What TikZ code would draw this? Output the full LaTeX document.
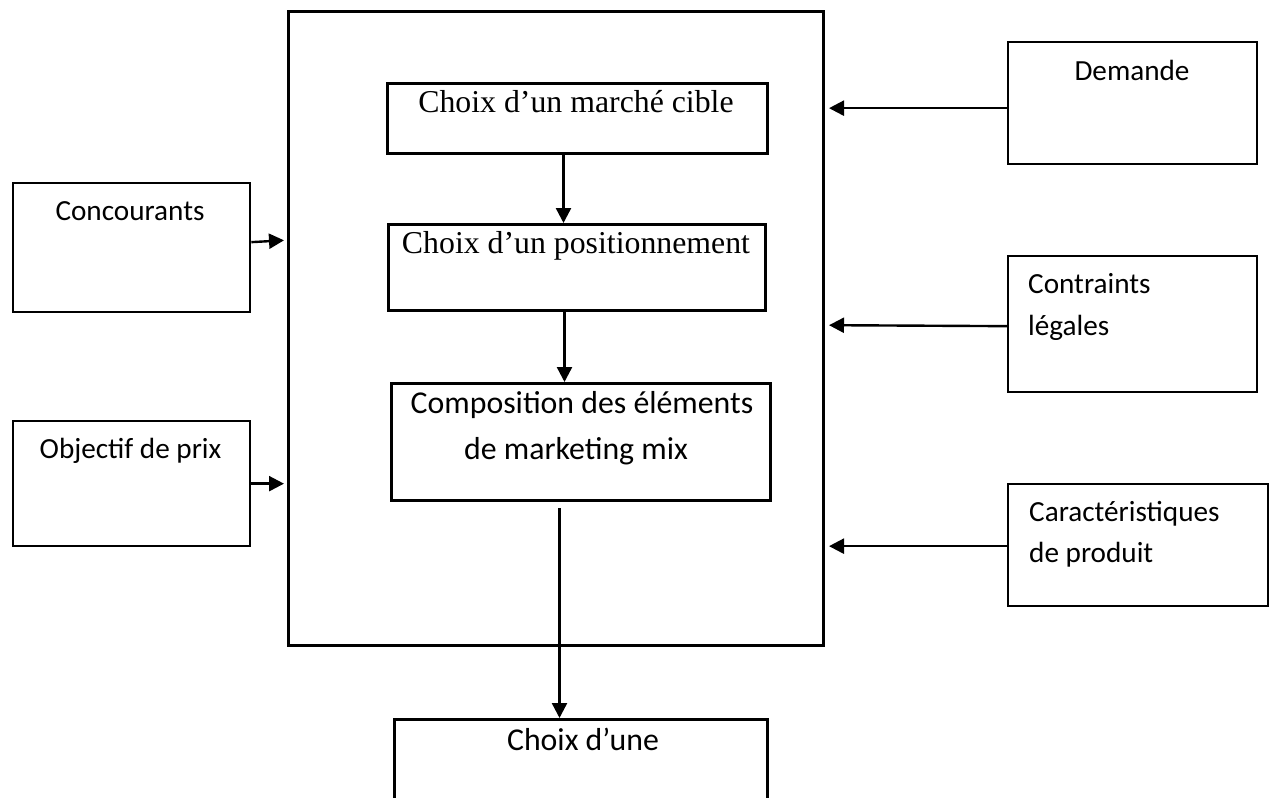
\documentclass[tikz,border=0pt]{standalone}
\usepackage{fontspec}
\setmainfont{Carlito}
\newfontfamily\tnr{Liberation Serif}
\usetikzlibrary{arrows.meta,calc}
\begin{document}
\begin{tikzpicture}[x=1pt,y=-1pt,
  box/.style={draw=black, line width=3pt, inner sep=0pt, anchor=north west},
  sidebox/.style={box, line width=2.3pt},
  sidetxt/.style={font=\fontsize{29.2}{42}\selectfont, inner sep=0pt, anchor=base},
  midtxt/.style={font=\fontsize{31.8}{43}\selectfont, inner sep=0pt, anchor=base},
  sertxt/.style={font=\tnr\fontsize{31.8}{40}\selectfont, inner sep=0pt, anchor=base},
  arr/.style={line width=2.4pt, -{Triangle[length=15pt,width=15pt]}}]
\useasboundingbox (0,0) rectangle (1272,798);
\clip (0,0) rectangle (1272,798);
\fill[white] (0,0) rectangle (1272,798);

% boxes
\node[box, minimum width=535pt, minimum height=634pt] (big) at (287,10) {};
\node[box, minimum width=380pt, minimum height=70pt] (marche) at (386,82) {};
\node[box, minimum width=377pt, minimum height=86pt] (pos) at (387,223) {};
\node[box, minimum width=379pt, minimum height=117pt] (comp) at (390,382) {};
\node[box, minimum width=373pt, minimum height=120pt] (choix) at (393,718) {};
\node[sidebox, minimum width=237pt, minimum height=129pt] (conc) at (12,182) {};
\node[sidebox, minimum width=237pt, minimum height=125pt] (obj) at (12,420) {};
\node[sidebox, minimum width=249pt, minimum height=122pt] (dem) at (1007,41) {};
\node[sidebox, minimum width=249pt, minimum height=136pt] (cont) at (1007,255) {};
\node[sidebox, minimum width=260pt, minimum height=122pt] (car) at (1007,483) {};

% texts
\node[sertxt] (t1) at (576,112) {Choix d’un marché cible};
\node[sertxt] (t2) at (576,253) {Choix d’un positionnement};
\node[midtxt] (t3) at (582,413) {Composition des éléments};
\node[midtxt] (t4) at (576,459) {de marketing mix};
\node[midtxt] (t5) at (583,750) {Choix d’une};
\node[sidetxt] (t6) at (130,220) {Concourants};
\node[sidetxt] (t7) at (130.5,458) {Objectif de prix};
\node[sidetxt] (t8) at (1132,80) {Demande};
\node[sidetxt, anchor=base west] (t9) at (1028,293) {Contraints};
\node[sidetxt, anchor=base west] (t10) at (1028,335) {légales};
\node[sidetxt, anchor=base west] (t11) at (1029,521) {Caractéristiques};
\node[sidetxt, anchor=base west] (t12) at (1029,562) {de produit};

% vertical arrows
\draw[arr] ([xshift=-14pt]marche.south) -- ([xshift=-14pt]marche.south |- pos.north);
\draw[arr] ([xshift=-12.5pt]pos.south) -- ([xshift=-12.5pt]pos.south |- comp.north);
\draw[arr] ([xshift=-21.5pt,yshift=-6pt]comp.south) -- ([xshift=-21.5pt]comp.south |- choix.north);

% left arrows
\draw[arr, shorten >=3pt] ([yshift=5.5pt]conc.east) -- ([yshift=7.5pt]conc.east -| big.west);
\draw[arr, shorten >=3pt] (obj.east) -- (obj.east -| big.west);

% right arrows
\draw[arr, shorten >=4pt] ([yshift=-5pt]dem.west) -- ([yshift=-5pt]dem.west -| big.east);
\draw[arr, shorten >=4pt] ([yshift=-2pt]cont.west) -- ([yshift=-1pt]cont.west -| big.east);
\draw[arr, shorten >=4pt] ([yshift=-1pt]car.west) -- ([yshift=-1pt]car.west -| big.east);
\end{tikzpicture}
\end{document}
